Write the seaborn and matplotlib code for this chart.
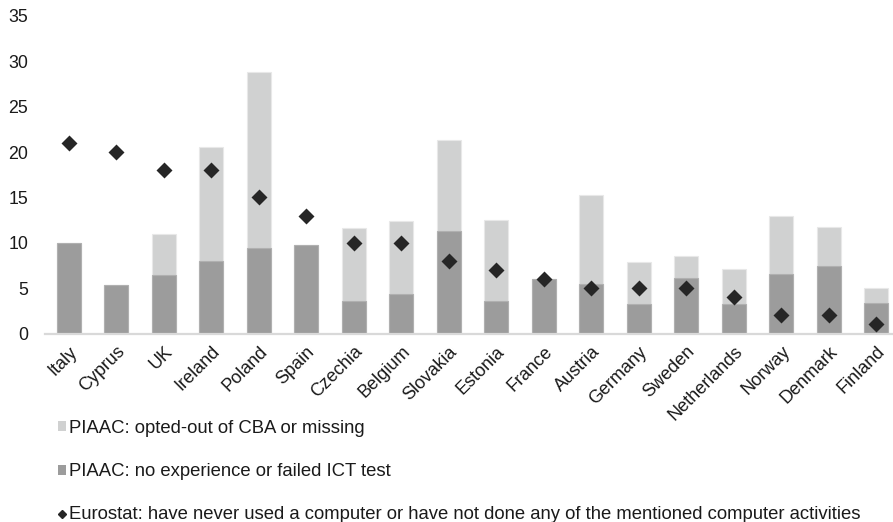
import matplotlib
matplotlib.use("Agg")
import matplotlib.pyplot as plt
import seaborn as sns
import pandas as pd
from matplotlib.patches import Patch
from matplotlib.lines import Line2D

countries = ["Italy", "Cyprus", "UK", "Ireland", "Poland", "Spain", "Czechia", "Belgium",
             "Slovakia", "Estonia", "France", "Austria", "Germany", "Sweden", "Netherlands",
             "Norway", "Denmark", "Finland"]
piaac_failed = [10.0, 5.3, 6.5, 8.0, 9.4, 9.8, 3.6, 4.4, 11.3, 3.6, 6.0, 5.5, 3.3, 6.1, 3.3, 6.6, 7.4, 3.4]
piaac_optout = [0.0, 0.0, 4.5, 12.6, 19.4, 0.0, 8.0, 8.0, 10.0, 8.9, 0.0, 9.8, 4.6, 2.4, 3.8, 6.3, 4.3, 1.6]
eurostat = [21, 20, 18, 18, 15, 13, 10, 10, 8, 7, 6, 5, 5, 5, 4, 2, 2, 1]

labels = ["PIAAC: opted-out of CBA or missing",
          "PIAAC: no experience or failed ICT test",
          "Eurostat: have never used a computer or have not done any of the mentioned computer activities"]

light = "#D0D1D1"
dark = "#9C9C9C"
mark = "#262626"

df = pd.DataFrame({"country": countries, "failed": piaac_failed,
                   "total": [a + b for a, b in zip(piaac_failed, piaac_optout)],
                   "eurostat": eurostat})

sns.set_style("white")
plt.rcParams["font.family"] = ["Liberation Sans", "DejaVu Sans"]

fig = plt.figure(figsize=(8.93, 5.22), dpi=100)
ax = fig.add_axes([45 / 893, 1 - 333.5 / 522, 1 - 45 / 893, (333.5 - 16) / 522])

sns.barplot(data=df, x="country", y="total", order=countries, color=light, width=0.5,
            saturation=1, edgecolor="#E8E8E8", linewidth=0.8, ax=ax)
sns.barplot(data=df, x="country", y="failed", order=countries, color=dark, width=0.5,
            saturation=1, edgecolor="#B0B0B0", linewidth=0.8, ax=ax)
sns.pointplot(data=df, x="country", y="eurostat", order=countries, color=mark,
              linestyle="none", marker="D", markersize=6.5, ax=ax)

ax.set_xlim(-0.5, 17.35)
ax.set_ylim(0, 35)
ax.set_yticks(range(0, 36, 5))
ax.set_xlabel("")
ax.set_ylabel("")
for s in ["top", "right", "left"]:
    ax.spines[s].set_visible(False)
ax.spines["bottom"].set_color("#D9D9D9")
ax.spines["bottom"].set_linewidth(1.6)
ax.tick_params(axis="y", length=0, pad=12, labelsize=12.8, labelcolor="#1a1a1a")
ax.tick_params(axis="x", length=0, pad=7, labelsize=13, labelcolor="#1a1a1a")
for t in ax.get_xticklabels():
    t.set_rotation(45)
    t.set_ha("right")
    t.set_rotation_mode("anchor")

handles = [Patch(facecolor=light, edgecolor="none"),
           Patch(facecolor=dark, edgecolor="none"),
           Line2D([], [], marker="D", color=mark, linestyle="none", markersize=4.5)]
fig.legend(handles, labels, loc="upper left", bbox_to_anchor=(58 / 893, 1 - 420 / 522),
           frameon=False, fontsize=13.3, handlelength=0.45, handleheight=0.45,
           handletextpad=0.15, labelspacing=1.42, borderaxespad=0, borderpad=0,
           labelcolor="#1a1a1a")

fig.savefig("out.png", dpi=100)
